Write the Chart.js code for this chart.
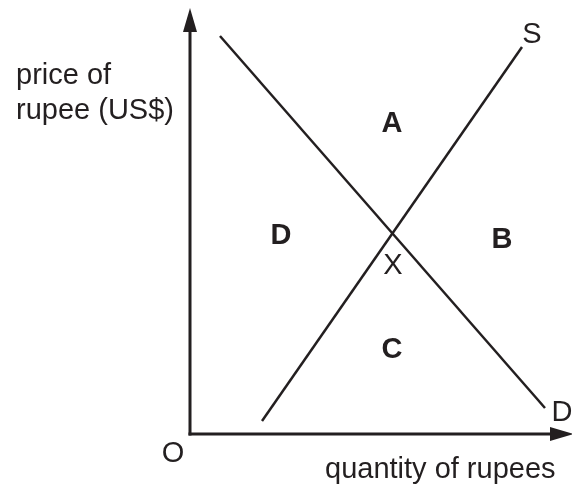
<!DOCTYPE html>
<html>
<head>
<meta charset="utf-8">
<script src="https://cdn.jsdelivr.net/npm/chart.js@4.4.1/dist/chart.umd.min.js"></script>
<style>
  body { margin: 0; background: #fff; }
  canvas { display: block; }
</style>
</head>
<body>
<canvas id="chart" width="572" height="487"></canvas>
<script>
// curves, in quantity / price units measured from the origin O
const demandPoints = [{ x: 30, y: 398 }, { x: 355, y: 26 }];
const supplyPoints = [{ x: 72, y: 13 }, { x: 332, y: 387 }];
const xAxisEnd = 384;
const yAxisEnd = 426;

const areaLabels = ["A", "B", "C", "D"];
const curveLabels = ["S", "D", "X", "O"];
const axisTitles = ["price of", "rupee (US$)", "quantity of rupees"];

const ink = "#231f20";
const font = "Liberation Sans, Arial, sans-serif";

// where each piece of text sits (data units, middle of capitals)
const textSpots = [
  { t: areaLabels[0], x: 202, y: 313, bold: true },
  { t: areaLabels[1], x: 312, y: 197, bold: true },
  { t: areaLabels[2], x: 202, y: 87, bold: true },
  { t: areaLabels[3], x: 91, y: 201, bold: true },
  { t: curveLabels[0], x: 342, y: 402 },
  { t: curveLabels[1], x: 372, y: 24 },
  { t: curveLabels[2], x: 203, y: 171 },
  { t: curveLabels[3], x: -17, y: -17 },
  { t: axisTitles[0], x: -174, y: 361, align: "left" },
  { t: axisTitles[1], x: -174, y: 326, align: "left" },
  { t: axisTitles[2], x: 135, y: -33, align: "left" },
];

const labelPlugin = {
  id: "labels",
  afterDatasetsDraw(chart) {
    const { ctx, scales } = chart;
    const px = (v) => scales.x.getPixelForValue(v);
    const py = (v) => scales.y.getPixelForValue(v);
    ctx.save();
    ctx.fillStyle = ink;

    // arrow heads on the axes
    ctx.beginPath();
    ctx.moveTo(px(0), py(yAxisEnd));
    ctx.lineTo(px(0) - 7, py(yAxisEnd) + 24);
    ctx.lineTo(px(0) + 7, py(yAxisEnd) + 24);
    ctx.closePath();
    ctx.fill();
    ctx.beginPath();
    ctx.moveTo(px(xAxisEnd), py(0));
    ctx.lineTo(px(xAxisEnd) - 24, py(0) - 7);
    ctx.lineTo(px(xAxisEnd) - 24, py(0) + 7);
    ctx.closePath();
    ctx.fill();

    ctx.textBaseline = "alphabetic";
    textSpots.forEach((s) => {
      ctx.font = (s.bold ? "bold " : "") + "29px " + font;
      ctx.textAlign = s.align || "center";
      ctx.fillText(s.t, px(s.x), py(s.y) + 10.5);
    });
    ctx.restore();
  },
};

new Chart(document.getElementById("chart"), {
  type: "scatter",
  plugins: [labelPlugin],
  data: {
    datasets: [
      { data: demandPoints, showLine: true, borderColor: ink, borderWidth: 2.5, pointRadius: 0 },
      { data: supplyPoints, showLine: true, borderColor: ink, borderWidth: 2.5, pointRadius: 0 },
      { data: [{ x: 0, y: 0 }, { x: 0, y: yAxisEnd - 20 }], showLine: true, borderColor: ink, borderWidth: 3, pointRadius: 0, borderCapStyle: "square" },
      { data: [{ x: 0, y: 0 }, { x: xAxisEnd - 20, y: 0 }], showLine: true, borderColor: ink, borderWidth: 3, pointRadius: 0, borderCapStyle: "square" },
    ],
  },
  options: {
    responsive: false,
    animation: false,
    layout: { padding: 0 },
    plugins: { legend: { display: false }, tooltip: { enabled: false } },
    scales: {
      x: { type: "linear", min: -190, max: 382, display: false },
      y: { type: "linear", min: -53, max: 434, display: false },
    },
  },
});
</script>
</body>
</html>
